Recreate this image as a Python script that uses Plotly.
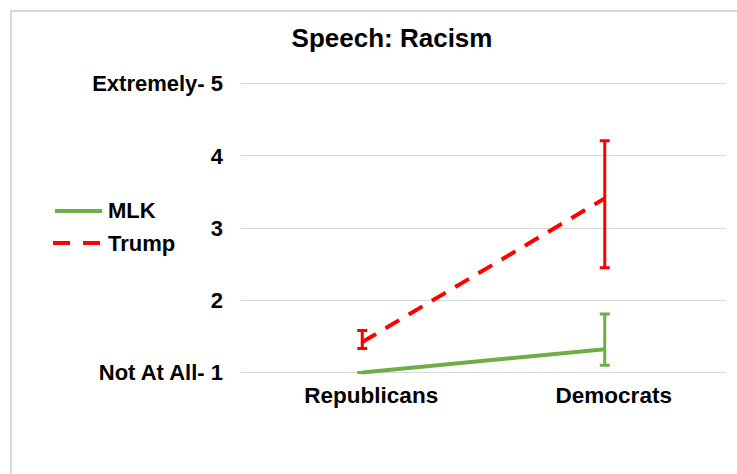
import plotly.graph_objects as go

# Survey ratings for the racism speech item (1 = Not At All, 5 = Extremely)
categories = ["Republicans", "Democrats"]

mlk_mean = [1.00, 1.32]
mlk_err_plus = [0.0, 0.49]
mlk_err_minus = [0.0, 0.22]

trump_mean = [1.42, 3.41]
trump_err_plus = [0.16, 0.80]
trump_err_minus = [0.09, 0.96]

y_tickvals = [1, 2, 3, 4, 5]
y_ticktext = ["Not At All- 1", "2", "3", "4", "Extremely- 5"]
y_range = [0.95, 5.05]

GREEN = "#70ad47"
RED = "#ff0000"
GRID = "#d9d9d9"
FONT = "Liberation Sans, Arial, sans-serif"

W, H = 737, 474
UNIT = 72            # pixels per rating step
TOP_5, BOT_1 = 84, 372  # pixel rows of ratings 5 and 1
L, R = 241, 11
T = TOP_5 - (y_range[1] - 5) * UNIT
B = H - BOT_1 - (1 - y_range[0]) * UNIT
PW, PH = W - L - R, H - T - B


def px_x(x):
    return (x - L) / PW


def px_y(y):
    return (H - B - y) / PH


fig = go.Figure()

fig.add_trace(go.Scatter(
    x=categories, y=mlk_mean, mode="lines", name="MLK",
    line=dict(color=GREEN, width=4),
    error_y=dict(type="data", symmetric=False, array=mlk_err_plus,
                 arrayminus=mlk_err_minus, color=GREEN, thickness=3, width=5),
    showlegend=False,
))

fig.add_trace(go.Scatter(
    x=categories, y=trump_mean, mode="lines", name="Trump",
    line=dict(color=RED, width=4, dash="16px,11px"),
    error_y=dict(type="data", symmetric=False, array=trump_err_plus,
                 arrayminus=trump_err_minus, color=RED, thickness=3, width=5),
    showlegend=False,
))

shapes = [
    # outer chart frame
    dict(type="rect", xref="paper", yref="paper",
         x0=px_x(11), x1=px_x(760), y0=px_y(500), y1=px_y(11.5),
         line=dict(color=GRID, width=2), fillcolor="rgba(0,0,0,0)", layer="below"),
    # legend samples
    dict(type="line", xref="paper", yref="paper",
         x0=px_x(55), x1=px_x(102), y0=px_y(211), y1=px_y(211),
         line=dict(color=GREEN, width=4)),
    dict(type="line", xref="paper", yref="paper",
         x0=px_x(53), x1=px_x(101), y0=px_y(243), y1=px_y(243),
         line=dict(color=RED, width=4, dash="17px,13px")),
]

annotations = [
    dict(text="<b>MLK</b>", xref="paper", yref="paper", x=px_x(106), y=px_y(211),
         xanchor="left", yanchor="middle", showarrow=False,
         font=dict(family=FONT, size=22, color="black")),
    dict(text="<b>Trump</b>", xref="paper", yref="paper", x=px_x(106), y=px_y(243),
         xanchor="left", yanchor="middle", showarrow=False,
         font=dict(family=FONT, size=22, color="black")),
]

fig.update_layout(
    width=W, height=H,
    margin=dict(l=L, r=R, t=T, b=B, pad=0),
    paper_bgcolor="white", plot_bgcolor="white",
    title=dict(text="<b>Speech: Racism</b>", x=392 / W, y=1 - 38 / H,
               xanchor="center", yanchor="middle", xref="container", yref="container",
               font=dict(family=FONT, size=26, color="black")),
    shapes=shapes, annotations=annotations,
    showlegend=False,
)

fig.update_xaxes(
    type="category", range=[-0.5, 1.5], showgrid=False, zeroline=False,
    showline=False, ticks="", ticklabelshift=9, ticklabelstandoff=3,
    tickfont=dict(family=FONT, size=22.5, color="black"),
    tickprefix="<b>", ticksuffix="</b>",
)

fig.update_yaxes(
    range=y_range, tickvals=y_tickvals, ticktext=[f"<b>{t}</b>" for t in y_ticktext],
    showgrid=True, gridcolor=GRID, gridwidth=1, zeroline=False, showline=False,
    ticks="", ticklabelstandoff=17,
    tickfont=dict(family=FONT, size=22, color="black"),
)

fig.write_html("out.html")
